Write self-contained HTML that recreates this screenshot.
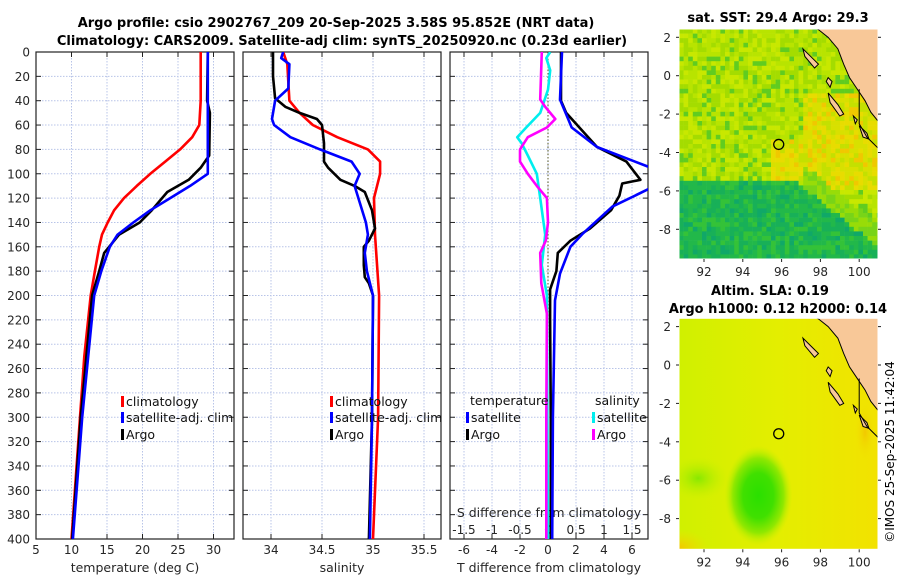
<!DOCTYPE html>
<html><head><meta charset="utf-8"><style>
html,body{margin:0;padding:0;background:#fff;}
svg{display:block;font-family:"DejaVu Sans","Liberation Sans",sans-serif;}
</style></head><body>
<svg id="fig" width="900" height="580" viewBox="0 0 900 580">
<defs>
<clipPath id="c1"><rect x="36" y="52" width="198" height="487"/></clipPath>
<clipPath id="c2"><rect x="243" y="52" width="198" height="487"/></clipPath>
<clipPath id="c3"><rect x="450" y="52" width="198" height="487"/></clipPath>
<clipPath id="cm1"><rect x="679" y="29" width="199" height="230"/></clipPath>
<clipPath id="cm2"><rect x="679" y="318" width="199" height="231"/></clipPath>
<linearGradient id="gbase" x1="0" y1="0" x2="1" y2="0"><stop offset="0" stop-color="#d0f000"/><stop offset="0.5" stop-color="#e4ee00"/><stop offset="1" stop-color="#f2e200"/></linearGradient>
<radialGradient id="gblob" cx="0.5" cy="0.5" r="0.5"><stop offset="0" stop-color="#2ae000"/><stop offset="0.45" stop-color="#40e000"/><stop offset="0.75" stop-color="#90e800"/><stop offset="1" stop-color="#c8f000" stop-opacity="0"/></radialGradient>
<radialGradient id="gblob2" cx="0.5" cy="0.5" r="0.5"><stop offset="0" stop-color="#88e800"/><stop offset="1" stop-color="#c8f000" stop-opacity="0"/></radialGradient>
<radialGradient id="gor" cx="0.5" cy="0.5" r="0.5"><stop offset="0" stop-color="#f2c800"/><stop offset="1" stop-color="#f0e000" stop-opacity="0"/></radialGradient>
</defs>
<g font-weight="bold" font-size="13" text-anchor="middle">
<text x="336" y="27">Argo profile: csio 2902767_209 20-Sep-2025 3.58S 95.852E (NRT data)</text>
<text x="342" y="45">Climatology: CARS2009. Satellite-adj clim: synTS_20250920.nc (0.23d earlier)</text>
</g>
<g id="axes"></g>
<g id="series"></g>
<g id="maps"></g>
<text transform="translate(894,452) rotate(-90)" text-anchor="middle" font-size="12">©IMOS 25-Sep-2025 11:42:04</text>
</svg>
<script>
// ---- data ----
const depthTicks=[0,20,40,60,80,100,120,140,160,180,200,220,240,260,280,300,320,340,360,380,400];
const tTicks=[5,10,15,20,25,30];
const sTicks=[34,34.5,35,35.5];
const dTicks=[-6,-4,-2,0,2,4,6];
const sdTickLabels=["-1.5","-1","-0.5","0","0.5","1","1.5"];
const tClimDepth=[0,40,60,70,80,90,100,110,120,130,140,150,160,180,200,250,300,400];
const tClimVal=[28.2,28.2,28.0,27.0,25.3,23.2,21.1,19.2,17.4,16.0,15.1,14.3,13.9,13.3,12.7,11.8,11.2,10.0];
const tSatDepth=[0,40,100,110,120,130,140,150,160,180,200,300,400];
const tSatVal=[29.2,29.2,29.2,26.7,23.9,21.1,18.7,16.5,15.4,14.2,13.2,11.5,10.2];
const tArgoDepth=[0,40,50,85,95,105,115,130,140,150,165,180,200,300,400];
const tArgoVal=[29.2,29.1,29.5,29.4,28.2,26.5,23.5,21.3,19.6,16.7,14.6,13.9,12.9,11.3,10.1];
const sClimDepth=[0,10,40,50,60,70,80,90,100,120,150,200,300,400];
const sClimVal=[34.12,34.16,34.18,34.28,34.41,34.65,34.95,35.07,35.07,35.01,35.02,35.06,35.05,35.0];
const sSatDepth=[0,5,10,30,40,55,60,70,80,90,100,110,140,150,165,180,200,300,400];
const sSatVal=[34.12,34.10,34.18,34.17,34.04,34.01,34.03,34.19,34.48,34.79,34.87,34.82,34.93,34.95,34.92,34.94,35.0,34.99,34.97];
const sArgoDepth=[0,20,38,45,50,55,60,75,90,95,105,110,115,130,145,155,160,175,185,190,200,300,400];
const sArgoVal=[34.02,34.02,34.04,34.14,34.28,34.45,34.5,34.52,34.52,34.56,34.68,34.82,34.92,34.99,35.02,34.96,34.91,34.91,34.92,34.96,35.0,34.99,34.96];
const dtSatDepth=[0,39,62,78,94,100,113,127,149,160,182,204,300,400];
const dtSatVal=[1.0,0.86,1.69,3.5,7.1,9.0,7.1,4.6,2.5,1.6,0.86,0.5,0.35,0.3];
const dtArgoDepth=[0,40,50,78,90,105,108,118,130,145,155,165,180,195,220,300,400];
const dtArgoVal=[0.93,0.93,1.3,3.5,5.6,6.6,5.3,5.1,4.5,3.0,1.6,0.7,0.6,0.15,0.15,0.2,0.2];
const dsSatDepth=[0,5,15,31,50,62,70,75,85,100,120,150,175,200,300,400];
const dsSatVal=[0.04,-0.03,0.04,0,-0.14,-0.39,-0.55,-0.47,-0.36,-0.2,-0.14,-0.05,-0.11,-0.02,-0.01,0];
const dsArgoDepth=[0,39,45,55,62,70,80,90,100,110,120,140,155,165,190,215,300,400];
const dsArgoVal=[-0.11,-0.14,-0.05,0.13,-0.02,-0.36,-0.5,-0.5,-0.36,-0.2,-0.02,0,-0.04,-0.14,-0.12,-0.02,-0.03,-0.03];

const NS="http://www.w3.org/2000/svg";
function mk(tag,attrs,parent,txt){const e=document.createElementNS(NS,tag);for(const k in attrs)e.setAttribute(k,attrs[k]);if(txt!==undefined)e.textContent=txt;parent.appendChild(e);return e;}
const yD=d=>52+d*1.2175;
const x1=t=>36+(t-5)*7.1;
const x2=s=>271+(s-34)*102;
const x3=t=>548+t*14;
const axes=document.getElementById('axes');
const ser=document.getElementById('series');
const panels=[{x0:36,ticks:tTicks,fx:x1,lab:"temperature (deg C)",name:"temperature-panel"},
{x0:243,ticks:sTicks,fx:x2,lab:"salinity",name:"salinity-panel"},
{x0:450,ticks:dTicks,fx:x3,lab:"T difference from climatology",name:"difference-panel"}];
panels.forEach((p,pi)=>{
  const g=mk('g',{},axes);
  
  
  depthTicks.forEach(d=>{if(d>0&&d<400){const l=mk('line',{x1:p.x0,x2:p.x0+198,y1:yD(d),y2:yD(d),stroke:'#b8c4e8','stroke-width':1,'stroke-dasharray':'1.5,1.5'},g);}});
  p.ticks.forEach(v=>{const x=p.fx(v);if(x>p.x0+1&&x<p.x0+197){const l=mk('line',{x1:x,x2:x,y1:52,y2:539,stroke:'#b8c4e8','stroke-width':1,'stroke-dasharray':'1.5,1.5'},g);}});
  depthTicks.forEach(d=>{mk('line',{x1:p.x0,x2:p.x0+5,y1:yD(d),y2:yD(d),stroke:'#222'},g);mk('line',{x1:p.x0+193,x2:p.x0+198,y1:yD(d),y2:yD(d),stroke:'#222'},g);});
  p.ticks.forEach((v,i)=>{const x=p.fx(v);if(x<p.x0-1||x>p.x0+199)return;mk('line',{x1:x,x2:x,y1:534,y2:539,stroke:'#222'},g);mk('line',{x1:x,x2:x,y1:52,y2:57,stroke:'#222'},g);
    const t=mk('text',{x:x,y:554,'text-anchor':'middle','font-size':12,fill:'#262626'},g,String(v));});
  const xl=mk('text',{x:p.x0+99,y:572,'text-anchor':'middle','font-size':12.5,fill:'#262626'},g,p.lab);
  
  
});
depthTicks.forEach(d=>{const t=mk('text',{x:30,y:yD(d)+4.5,'text-anchor':'end','font-size':12,fill:'#262626'},axes,String(d));});
mk('line',{x1:548,x2:548,y1:52,y2:539,stroke:'#555522','stroke-width':1,'stroke-dasharray':'1.5,2'},axes);
sdTickLabels.forEach((s,i)=>{const t=mk('text',{x:x3(dTicks[i]),y:534,'text-anchor':'middle','font-size':12,fill:'#262626'},axes,s);});
const st=mk('text',{x:549,y:517,'text-anchor':'middle','font-size':12.5,fill:'#262626'},axes,"S difference from climatology");



function line(depths,vals,fx,color,clip,name){
  const pts=depths.map((d,i)=>fx(vals[i]).toFixed(1)+','+yD(d).toFixed(1)).join(' ');
  const l=mk('polyline',{points:pts,fill:'none',stroke:color,'stroke-width':2.6,'stroke-linejoin':'round','clip-path':'url(#'+clip+')'},ser);
  
  
}
line(tClimDepth,tClimVal,x1,'#ff0000','c1','temperature-climatology-line');
line(tArgoDepth,tArgoVal,x1,'#000','c1','temperature-argo-line');
line(tSatDepth,tSatVal,x1,'#0000ff','c1','temperature-satellite-line');
line(sClimDepth,sClimVal,x2,'#ff0000','c2','salinity-climatology-line');
line(sArgoDepth,sArgoVal,x2,'#000','c2','salinity-argo-line');
line(sSatDepth,sSatVal,x2,'#0000ff','c2','salinity-satellite-line');
line(dsSatDepth,dsSatVal,v=>x3(v*4),'#00eeee','c3','s-diff-satellite-line');
line(dsArgoDepth,dsArgoVal,v=>x3(v*4),'#ff00ff','c3','s-diff-argo-line');
line(dtArgoDepth,dtArgoVal,x3,'#000','c3','t-diff-argo-line');
line(dtSatDepth,dtSatVal,x3,'#0000ff','c3','t-diff-satellite-line');

[36,243,450].forEach(x=>{const r=mk('rect',{x:x,y:52,width:198,height:487,fill:'none',stroke:'#222','stroke-width':1.2},axes);});

function legEntry(x,y,color,label,name){
  const g=mk('g',{},ser);
  
  
  mk('rect',{x:x,y:y-9,width:3,height:11,fill:color},g);
  mk('text',{x:x+5,y:y+1,'font-size':12.5,fill:'#111'},g,label);
}
legEntry(121,405,'#ff0000','climatology','legend-entry-climatology');
legEntry(121,421,'#0000ff','satellite-adj. clim','legend-entry-satellite');
legEntry(121,438,'#000','Argo','legend-entry-argo');
legEntry(330,405,'#ff0000','climatology','legend-entry-climatology');
legEntry(330,421,'#0000ff','satellite-adj. clim','legend-entry-satellite');
legEntry(330,438,'#000','Argo','legend-entry-argo');
mk('text',{x:470,y:405,'font-size':12.5,fill:'#111'},ser,'temperature');
mk('text',{x:595,y:405,'font-size':12.5,fill:'#111'},ser,'salinity');
legEntry(466,421,'#0000ff','satellite','legend-entry-t-satellite');
legEntry(466,438,'#000','Argo','legend-entry-t-argo');
legEntry(592,421,'#00eeee','satellite','legend-entry-s-satellite');
legEntry(592,438,'#ff00ff','Argo','legend-entry-s-argo');

// ---- maps ----
const maps=document.getElementById('maps');
const lonTicks=[92,94,96,98,100];
const latTicks=[2,0,-2,-4,-6,-8];
const mx=lon=>704+(lon-92)*19.4;
function hash(i,j){let h=(i*374761393+j*668265263)>>>0;h=((h^(h>>>13))*1274126177)>>>0;return (h%1000)/1000;}
function drawMap(y0,top,clip,name,title){
  const my=lat=>y0+75.7-lat*19.2;
  const g=mk('g',{},maps);
  
  
  const inner=mk('g',{'clip-path':'url(#'+clip+')'},g);
  const Y0=y0+29;
  if(top){
    const cs=4.6;
    for(let i=0;i<44;i++)for(let j=0;j<51;j++){
      const x=679+i*cs,y=Y0+j*cs,h=hash(i,j);
      const lat=(75.7+y0-y)/19.2, lon=92+(x-704)/19.4;
      const bound=lon<96.5?-5.3:-5.3-(lon-96.5)*0.8;
      let c;
      if(lat<bound){c=h<0.3?'#18b058':(h<0.65?'#22b84a':(h<0.9?'#34c238':'#10a868'));}
      else if(lat<bound+1.2&&lon>97){c=h<0.5?'#78d418':'#98dc08';}
      else{
        const yl=(lon>97&&lat<-0.8&&lat>-5.8)||(lon>95.3&&lon<97.5&&lat<-3.2&&lat>-5.3);
        if(yl)c=h<0.3?'#e8dc00':(h<0.6?'#d8e000':(h<0.85?'#c4e000':'#f0c800'));
        else c=h<0.3?'#a4dc00':(h<0.6?'#b8e400':(h<0.85?'#c8e800':'#60cc20'));
      }
      mk('rect',{x:x,y:y,width:cs+0.3,height:cs+0.3,fill:c},inner);
    }
  } else {
    mk('rect',{x:679,y:Y0,width:199,height:231,fill:'url(#gbase)'},inner);
    mk('ellipse',{cx:mx(91.7),cy:my(-5.9),rx:30,ry:22,fill:'url(#gblob2)'},inner);
    mk('ellipse',{cx:mx(94.8),cy:my(-6.8),rx:34,ry:50,fill:'url(#gblob)'},inner);
    mk('ellipse',{cx:679,cy:my(-9.5),rx:30,ry:18,fill:'url(#gor)'},inner);
    mk('ellipse',{cx:mx(100.3),cy:my(-3.5),rx:10,ry:28,fill:'url(#gor)'},inner);
  }
  const land=[[97.5,2.6],[97.9,2.4],[98.4,2.0],[98.9,1.4],[99.2,0.6],[99.5,-0.1],[99.9,-0.7],[100.3,-1.3],[100.6,-1.9],[101,-2.4],[101.2,-2.6],[101.2,2.6]];
  const lp=mk('polygon',{points:land.map(p=>mx(p[0])+','+my(p[1])).join(' '),fill:'#f8c898',stroke:'#000','stroke-width':1},inner);
  
  
  const isl=[[[97.1,1.4],[97.6,0.9],[97.9,0.6],[97.7,0.4],[97.2,1.0]],[[98.4,-0.9],[98.9,-1.5],[99.2,-2.0],[99.0,-2.1],[98.5,-1.4]],[[98.4,-0.1],[98.6,-0.3],[98.5,-0.6],[98.3,-0.3]],[[100.0,-2.6],[100.4,-3.0],[100.5,-3.3],[100.2,-3.2]],[[99.7,-2.1],[99.9,-2.3],[99.8,-2.5]]];
  isl.forEach(s=>mk('polygon',{points:s.map(p=>mx(p[0])+','+my(p[1])).join(' '),fill:'#f8c898',stroke:'#000','stroke-width':1},inner));
  mk('polyline',{points:[[100,-0.7],[100,-2.5],[100.4,-3.2],[101,-3.8]].map(p=>mx(p[0])+','+my(p[1])).join(' '),fill:'none',stroke:'#000','stroke-width':1},inner);
  const circ=mk('circle',{cx:mx(95.852),cy:my(-3.58),r:5,fill:'none',stroke:'#000','stroke-width':1.3},g);
  
  
  const H=top?230:231;
  mk('rect',{x:679,y:Y0,width:199,height:H,fill:'none',stroke:'#fff','stroke-width':1},g);
  lonTicks.forEach(l=>{mk('line',{x1:mx(l),x2:mx(l),y1:Y0+H,y2:Y0+H+3,stroke:'#222'},g);
    const t=mk('text',{x:mx(l),y:Y0+H+17,'text-anchor':'middle','font-size':12,fill:'#262626'},g,String(l));});
  latTicks.forEach(l=>{mk('line',{x1:676,x2:679,y1:my(l),y2:my(l),stroke:'#222'},g);mk('line',{x1:878,x2:881,y1:my(l),y2:my(l),stroke:'#222'},g);
    const t=mk('text',{x:671,y:my(l)+4.5,'text-anchor':'end','font-size':12,fill:'#262626'},g,String(l));});
  title.forEach((s,k)=>{const t=mk('text',{x:top?778:770+k*8,y:(top?22:295)+k*18,'text-anchor':'middle','font-size':13,'font-weight':'bold'},g,s);});
}
drawMap(0,true,'cm1','sst-map',['sat. SST: 29.4 Argo: 29.3']);
drawMap(289.3,false,'cm2','sla-map',['Altim. SLA: 0.19','Argo h1000: 0.12 h2000: 0.14']);
</script>
</body></html>
